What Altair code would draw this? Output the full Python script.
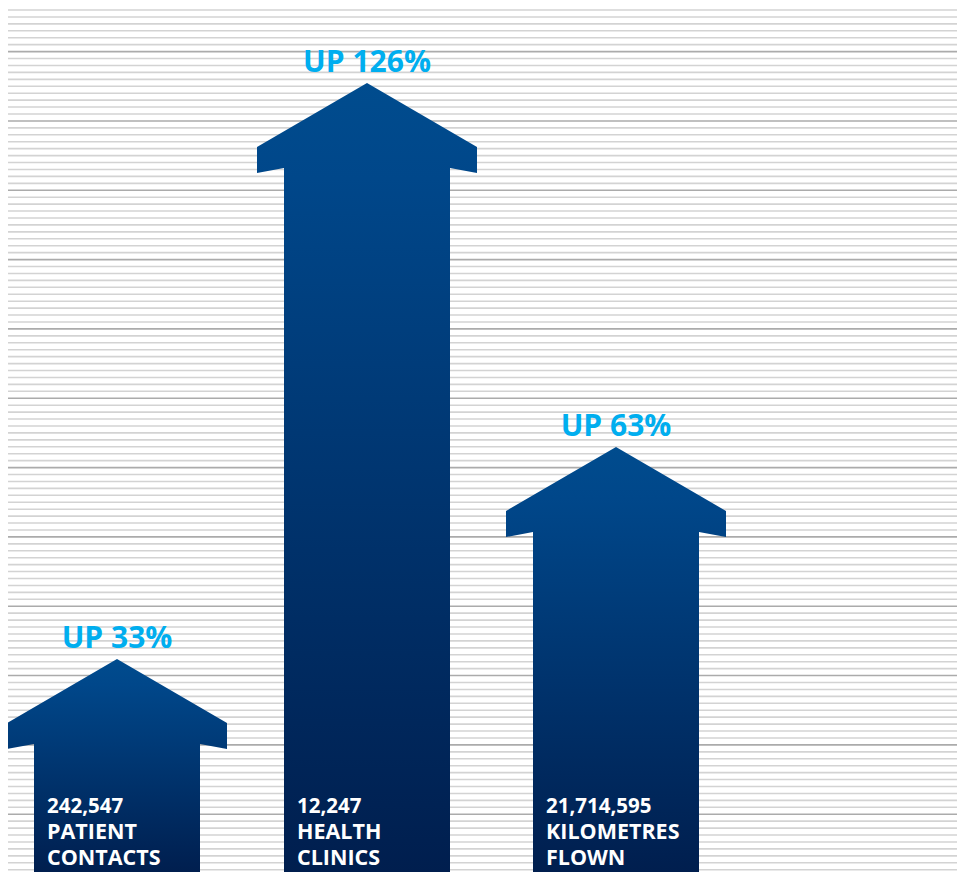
import altair as alt
import pandas as pd

# ---- data ----
categories = ["PATIENT CONTACTS", "HEALTH CLINICS", "KILOMETRES FLOWN"]
numbers = ["242,547", "12,247", "21,714,595"]
label_line1 = ["PATIENT", "HEALTH", "KILOMETRES"]
label_line2 = ["CONTACTS", "CLINICS", "FLOWN"]
increase_labels = ["UP 33%", "UP 126%", "UP 63%"]
arrow_centers = [109, 359, 608]      # chart units along x
arrow_tops = [213, 789, 425]         # arrow tip heights, chart units

W, H = 949, 864
HEAD_HALF, SHAFT_HALF = 110, 83
HEAD_SLOPE_DROP, WING_OUTER, WING_INNER = 64, 90, 85

rows = []
for i, (c, h) in enumerate(zip(arrow_centers, arrow_tops)):
    pts = [
        (c, h),
        (c + HEAD_HALF, h - HEAD_SLOPE_DROP),
        (c + HEAD_HALF, h - WING_OUTER),
        (c + SHAFT_HALF, h - WING_INNER),
        (c + SHAFT_HALF, -2),
        (c - SHAFT_HALF, -2),
        (c - SHAFT_HALF, h - WING_INNER),
        (c - HEAD_HALF, h - WING_OUTER),
        (c - HEAD_HALF, h - HEAD_SLOPE_DROP),
        (c, h),
    ]
    for k, (x, y) in enumerate(pts):
        rows.append({"arrow": categories[i], "o": k, "x": x, "y": y})
arrows_df = pd.DataFrame(rows)

# decorative background ruling
lines = []
for k in range(125):
    lines.append({"y": 862 - 6.933 * k, "dark": (k - 6) % 10 == 0})
lines_df = pd.DataFrame(lines)

labels_df = pd.DataFrame({
    "x": arrow_centers,
    "y": [t + 11 for t in arrow_tops],
    "text": increase_labels,
})

text_rows = []
for i, c in enumerate(arrow_centers):
    left = c - SHAFT_HALF + 13
    text_rows.append({"x": left, "y": 59, "text": numbers[i], "kind": "num"})
    text_rows.append({"x": left, "y": 33, "text": label_line1[i], "kind": "lab"})
    text_rows.append({"x": left, "y": 7, "text": label_line2[i], "kind": "lab"})
text_df = pd.DataFrame(text_rows)

xs = alt.Scale(domain=[0, W], nice=False, zero=False)
ys = alt.Scale(domain=[0, H], nice=False, zero=False)

light = alt.Chart(lines_df[~lines_df.dark]).mark_rule(
    color="#d3d3d3", strokeWidth=1.6
).encode(
    y=alt.Y("y:Q", scale=ys, axis=None),
    x=alt.value(-1), x2=alt.value(W),
)
dark = alt.Chart(lines_df[lines_df.dark]).mark_rule(
    color="#ababab", strokeWidth=1.6
).encode(
    y=alt.Y("y:Q", scale=ys, axis=None),
    x=alt.value(-1), x2=alt.value(W),
)

grad = {
    "gradient": "linear",
    "stops": [
        {"color": "#004c8e", "offset": 0},
        {"color": "#00478a", "offset": 0.12},
        {"color": "#001e4e", "offset": 1},
    ],
    "x1": 0, "x2": 0, "y1": 0, "y2": 1,
}

arrows = alt.Chart(arrows_df).mark_line(
    fill=grad, strokeWidth=0, interpolate="linear"
).encode(
    x=alt.X("x:Q", scale=xs, axis=None),
    y=alt.Y("y:Q", scale=ys, axis=None),
    detail="arrow:N",
    order="o:Q",
)

up = alt.Chart(labels_df).mark_text(
    font="Open Sans", fontWeight="bold", fontSize=30, color="#00aeef",
    align="center", baseline="alphabetic",
).encode(
    x=alt.X("x:Q", scale=xs, axis=None),
    y=alt.Y("y:Q", scale=ys, axis=None),
    text="text:N",
)

nums = alt.Chart(text_df[text_df.kind == "num"]).mark_text(
    font="Open Sans", fontWeight="bold", fontSize=20.5, color="white",
    align="left", baseline="alphabetic",
).encode(
    x=alt.X("x:Q", scale=xs, axis=None),
    y=alt.Y("y:Q", scale=ys, axis=None),
    text="text:N",
)

labs = alt.Chart(text_df[text_df.kind == "lab"]).mark_text(
    font="Open Sans", fontWeight="bold", fontSize=21.5, color="white",
    align="left", baseline="alphabetic",
).encode(
    x=alt.X("x:Q", scale=xs, axis=None),
    y=alt.Y("y:Q", scale=ys, axis=None),
    text="text:N",
)

chart = alt.layer(light, dark, arrows, up, nums, labs).properties(
    width=W, height=H, padding=0, autosize="none", background="white"
).configure_view(stroke=None)

chart.save("out.html", embed_options={"renderer": "svg", "actions": False})
